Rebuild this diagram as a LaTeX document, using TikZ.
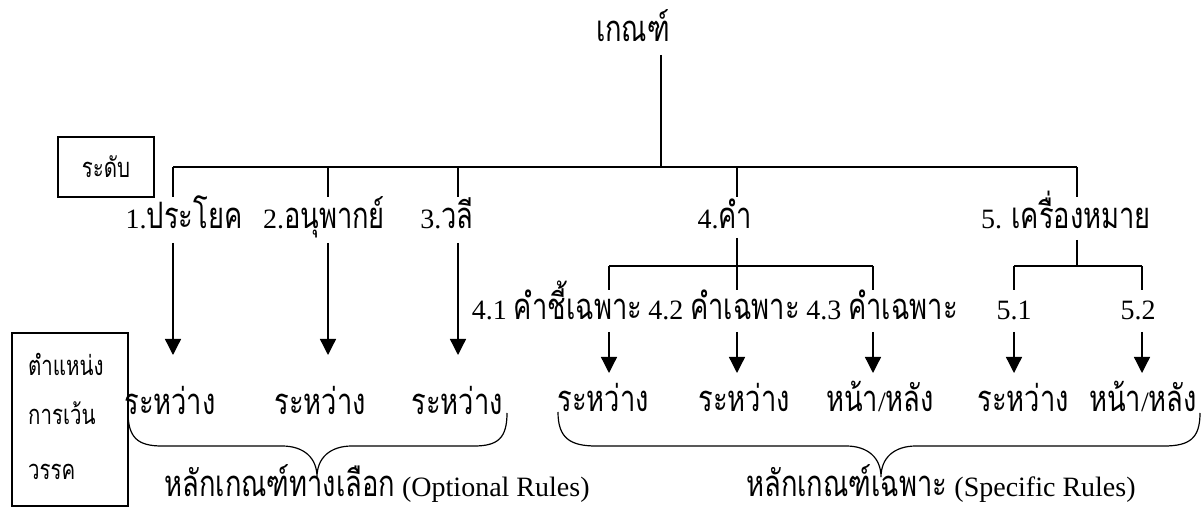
\documentclass[tikz,border=0pt]{standalone}
\usepackage{fontspec}
\setmainfont{Liberation Serif}
\newfontfamily\thaifont[Script=Thai,Scale=1.3,FakeStretch=0.75]{Loma}
\newcommand\tx[1]{{\thaifont #1}}
\usetikzlibrary{arrows.meta}
\begin{document}
\begin{tikzpicture}[x=1pt,y=-1pt,
  lbl/.style={inner sep=0pt, anchor=base, font=\fontsize{28}{32}\selectfont},
  smalltxt/.style={inner sep=0pt, anchor=base west, font=\fontsize{21}{24}\selectfont},
  frame/.style={draw, line width=1.3pt, inner sep=0pt},
  conn/.style={line width=1.3pt},
  arr/.style={conn, -{Triangle[width=16pt,length=16pt]}},
  brace/.style={line width=1.2pt}]
\useasboundingbox (0,0) rectangle (1203,510);

% ---- root ----
\node[lbl] (root) at (633,42) {\tx{เกณฑ์}};
\coordinate (rootfoot) at (661,55);
\coordinate (rootjoin) at (661,167);
\draw[conn] (rootfoot) -- (rootjoin);

% ---- level box ----
\node[frame, minimum width=96pt, minimum height=60pt, font=\fontsize{21}{24}\selectfont] (levelbox) at (106,167) {\tx{ระดับ}};

% ---- main bar and first level ----
\coordinate (b1) at (173,167);
\coordinate (b2) at (328,167);
\coordinate (b3) at (458,167);
\coordinate (b4) at (737,167);
\coordinate (b5) at (1077,167);
\draw[conn] (b1) -- (b5);

\node[lbl] (n1) at (184,229) {1.\tx{ประโยค}};
\node[lbl] (n2) at (324,229) {2.\tx{อนุพากย์}};
\node[lbl] (n3) at (447,229) {3.\tx{วลี}};
\node[lbl] (n4) at (725,229) {4.\tx{คำ}};
\node[lbl] (n5) at (1066,229) {5. \tx{เครื่องหมาย}};

\foreach \i/\x in {1/173,2/328,3/458,4/737,5/1077} {
  \coordinate (u\i) at (\x,197);
  \draw[conn] (b\i) -- (u\i);
}

% ---- optional rules: arrows straight down ----
\foreach \i/\x in {1/173,2/328,3/458} {
  \coordinate (d\i) at (\x,243);
  \coordinate (e\i) at (\x,355);
  \draw[arr] (d\i) -- (e\i);
}

\node[lbl] (p1) at (170,415) {\tx{ระหว่าง}};
\node[lbl] (p2) at (320,415) {\tx{ระหว่าง}};
\node[lbl] (p3) at (457,415) {\tx{ระหว่าง}};

% ---- specific rules: sub-bars ----
\coordinate (d4) at (737,238);
\coordinate (d5) at (1077,240);
\coordinate (s4) at (737,266);
\coordinate (s5) at (1077,266);
\draw[conn] (d4) -- (s4);
\draw[conn] (d5) -- (s5);

\coordinate (c41) at (609,266);
\coordinate (c42) at (737,266);
\coordinate (c43) at (873,266);
\coordinate (c51) at (1014,266);
\coordinate (c52) at (1142,266);
\draw[conn] (c41) -- (c43);
\draw[conn] (c51) -- (c52);

\foreach \c/\x in {41/609,42/737,43/873,51/1014,52/1142} {
  \coordinate (f\c) at (\x,290);
  \draw[conn] (c\c) -- (f\c);
  \coordinate (g\c) at (\x,332);
  \coordinate (h\c) at (\x,373);
  \draw[arr] (g\c) -- (h\c);
}

\node[lbl, anchor=base east] (n43) at (958,320) {4.3 \tx{คำเฉพาะ}};
\node[lbl, anchor=base east] (n42) at ([xshift=-6pt]n43.base west) {4.2 \tx{คำเฉพาะ}};
\node[lbl, anchor=base east] (n41) at ([xshift=-6pt]n42.base west) {4.1 \tx{คำชี้เฉพาะ}};
\node[lbl] (n51) at (1014,320) {5.1};
\node[lbl] (n52) at (1138,320) {5.2};

\node[lbl] (q41) at (603,412) {\tx{ระหว่าง}};
\node[lbl] (q42) at (744,412) {\tx{ระหว่าง}};
\node[lbl] (q43) at (880,412) {\tx{หน้า}/\tx{หลัง}};
\node[lbl] (q51) at (1023,412) {\tx{ระหว่าง}};
\node[lbl] (q52) at (1143,412) {\tx{หน้า}/\tx{หลัง}};

% ---- braces ----
\coordinate (oL) at (128,412);
\coordinate (oR) at (507,413);
\coordinate (oT) at (317,477);
\draw[brace] (oL) .. controls (128,438) and (138,446) .. (162,446) -- (282,446)
  .. controls (304,446) and (317,458) .. (oT)
  .. controls (317,458) and (330,446) .. (352,446) -- (474,446)
  .. controls (498,446) and (507,438) .. (oR);

\coordinate (sL) at (558,412);
\coordinate (sR) at (1200,413);
\coordinate (sT) at (881,477);
\draw[brace] (sL) .. controls (558,438) and (570,446) .. (596,446) -- (846,446)
  .. controls (868,446) and (881,458) .. (sT)
  .. controls (881,458) and (894,446) .. (916,446) -- (1164,446)
  .. controls (1190,446) and (1200,438) .. (sR);

\node[lbl] (optional) at (377,497) {\tx{หลักเกณฑ์ทางเลือก} (Optional Rules)};
\node[lbl] (specific) at (941,497) {\tx{หลักเกณฑ์เฉพาะ} (Specific Rules)};

% ---- position box ----
\node[frame, minimum width=116pt, minimum height=173pt] (posbox) at (70,419.5) {};
\node[smalltxt] (pos1) at (28,376) {\tx{ตำแหน่ง}};
\node[smalltxt] (pos2) at (28,425) {\tx{การเว้น}};
\node[smalltxt] (pos3) at (28,480) {\tx{วรรค}};
\end{tikzpicture}
\end{document}
